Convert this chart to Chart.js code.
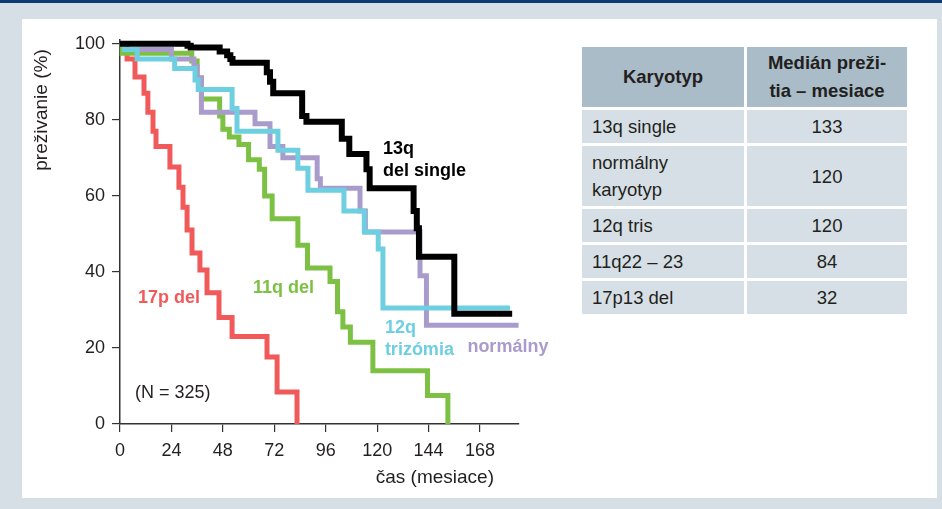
<!DOCTYPE html>
<html lang="sk">
<head>
    <meta charset="UTF-8">
    <title>Prežívanie podľa karyotypu</title>
    <script src="https://cdn.jsdelivr.net/npm/chart.js"></script>
    <style>
        * {
            box-sizing: border-box;
            margin: 0;
            padding: 0;
        }

        body {
            width: 942px;
            height: 509px;
            background: #d6dfe5;
            position: relative;
            overflow: hidden;
            font-family: "Liberation Sans", Arial, sans-serif;
        }

        .topbar {
            position: absolute;
            left: 0; top: 0;
            width: 942px; height: 3px;
            background: #0d3b76;
        }

        .panel {
            position: absolute;
            left: 22px; top: 19px;
            width: 915px; height: 479px;
            background: #fff;
        }

        #chart {
            position: absolute;
            left: 0; top: 0;
        }

        #tbl {
            position: absolute;
            left: 579px;
            top: 44px;
            width: 331px;
            table-layout: fixed;
            border-collapse: separate;
            border-spacing: 3px;
            font-size: 18.5px;
            color: #231f20;
        }

        #tbl th {
            background: #a9bcc7;
            height: 60px;
            line-height: 28px;
            font-weight: bold;
            white-space: pre-line;
        }

        #tbl td {
            background: #d6dfe5;
            height: 33px;
            line-height: 27px;
            padding: 0 10px;
            white-space: pre-line;
        }

        #tbl td.num {
            text-align: center;
        }
    </style>
</head>
<body>
    <div class="topbar"></div>
    <div class="panel"></div>
    <canvas id="chart" width="560" height="509"></canvas>
    <table id="tbl">
        <colgroup><col style="width:162px"><col style="width:160px"></colgroup>
        <thead><tr id="tblHead"></tr></thead>
        <tbody id="tblBody"></tbody>
    </table>
    <script>
        // axis ticks
        const xTicks = [0, 24, 48, 72, 96, 120, 144, 168];
        const yTicks = [0, 20, 40, 60, 80, 100];

        // survival curves: months, survival (%) after the step
        const monthsDel13q = [0, 31.5, 33, 46.5, 50, 51.5, 52.5, 68.5, 70, 71.5, 85, 87, 103.5, 107, 115, 116.5, 137, 138.5, 139.5, 156, 183];
        const survDel13q   = [100, 99.5, 99, 98, 97, 96, 95, 92.5, 90, 87, 81, 79.5, 75, 71, 67, 62, 56, 51.5, 44, 29, 29];

        const monthsTris12q = [0, 2, 8, 25.5, 35, 36.5, 52.3, 54.6, 73.7, 83, 87.7, 104.5, 114, 120.5, 122.7, 182];
        const survTris12q   = [100, 98.5, 96, 93.5, 90.5, 88, 83, 77, 72, 67.3, 61.5, 56, 50.5, 46, 30.5, 30.5];

        const monthsNormal = [0, 2, 24, 34.5, 36, 38, 63, 70, 76, 92, 93.5, 112, 114.5, 140, 143, 186];
        const survNormal   = [100, 98.5, 96, 94, 91, 82, 79, 73, 70, 64.5, 62, 56, 50.5, 39, 26, 26];

        const monthsDel11q = [0, 1, 33.5, 36, 38, 46.5, 48, 51, 55.5, 60, 65, 67.5, 71, 83, 87.5, 98, 101.5, 104, 107.5, 118, 143.5, 153];
        const survDel11q   = [100, 97.5, 95.5, 91, 85.5, 81, 77.5, 75.5, 73.5, 69.5, 67, 60, 54, 47, 41, 37.5, 29.5, 25.5, 21.5, 14, 7.5, 0];

        const monthsDel17p = [0, 3.3, 7, 11.2, 13, 15.4, 16.8, 23.3, 27.5, 29.4, 31.3, 33.6, 37.3, 40.6, 46.2, 52.3, 68.6, 73.3, 82.6];
        const survDel17p   = [100, 96, 91.3, 87, 82, 77, 73, 67.6, 62.3, 57, 51, 45, 40.5, 34.5, 28, 23, 17.6, 8.4, 0];

        // table
        const tableHeader = ['Karyotyp', 'Medián preži-\ntia – mesiace'];
        const karyotypes = ['13q single', 'normálny\nkaryotyp', '12q tris', '11q22 – 23', '17p13 del'];
        const medianMonths = [133, 120, 120, 84, 32];

        const FONT = '"Liberation Sans", Arial, sans-serif';
        const TEXT = '#231f20';

        function toPoints(xs, ys) {
            return xs.map((x, i) => ({ x: x, y: ys[i] }));
        }

        function curve(xs, ys, color, width) {
            return {
                data: toPoints(xs, ys),
                borderColor: color,
                borderWidth: width,
                stepped: 'before',
                pointRadius: 0,
                fill: false,
                borderJoinStyle: 'miter',
                borderCapStyle: 'butt',
                clip: 6
            };
        }

        // curve labels, placed in data units
        const curveLabels = [
            { lines: ['13q', 'del single'], t: 122.7, v: 72.3, color: '#000', bold: true },
            { lines: ['17p del'], t: 8.4, v: 33.1, color: '#f05a5a', bold: true },
            { lines: ['11q del'], t: 62.1, v: 35.8, color: '#7cc144', bold: true },
            { lines: ['12q', 'trizómia'], t: 123.6, v: 25.2, color: '#6dcfe0', bold: true },
            { lines: ['normálny'], t: 162.1, v: 20.2, color: '#a99ccc', bold: true },
            { lines: ['(N = 325)'], t: 7.0, v: 8.2, color: TEXT, bold: false }
        ];

        const labelPlugin = {
            id: 'curveLabels',
            afterDatasetsDraw(chart) {
                const { ctx, scales } = chart;
                ctx.save();
                ctx.textBaseline = 'middle';
                ctx.textAlign = 'left';
                curveLabels.forEach(l => {
                    ctx.font = (l.bold ? 'bold ' : '') + '18px ' + FONT;
                    ctx.fillStyle = l.color;
                    let px = scales.x.getPixelForValue(l.t);
                    let py = scales.y.getPixelForValue(l.v);
                    l.lines.forEach((s, i) => ctx.fillText(s, px, py + i * 22));
                });

                // axis titles
                ctx.fillStyle = TEXT;
                ctx.font = '19px ' + FONT;
                ctx.textAlign = 'right';
                ctx.fillText('čas (mesiace)', 494, 478);

                ctx.translate(42, 110);
                ctx.rotate(-Math.PI / 2);
                ctx.textAlign = 'center';
                ctx.fillText('preživanie (%)', 0, 0);
                ctx.restore();
            }
        };

        const axisLine = { display: true, color: '#333', width: 1.5 };
        const tickGrid = { drawOnChartArea: false, drawTicks: true, tickLength: 8, color: '#333', lineWidth: 1.2 };

        new Chart(document.getElementById('chart'), {
            type: 'line',
            data: {
                datasets: [
                    curve(monthsDel13q, survDel13q, '#000000', 6),
                    curve(monthsTris12q, survTris12q, '#6dcfe0', 5),
                    curve(monthsNormal, survNormal, '#a99ccc', 5),
                    curve(monthsDel11q, survDel11q, '#7cc144', 5),
                    curve(monthsDel17p, survDel17p, '#f05a5a', 5)
                ]
            },
            options: {
                responsive: false,
                animation: false,
                events: [],
                layout: { padding: { left: 0, top: 40, right: 41.4, bottom: 0 } },
                plugins: {
                    legend: { display: false },
                    tooltip: { enabled: false }
                },
                scales: {
                    x: {
                        type: 'linear',
                        min: 0,
                        max: 186,
                        afterBuildTicks: s => { s.ticks = xTicks.map(v => ({ value: v })); },
                        afterFit: s => { s.height = 85; },
                        grid: tickGrid,
                        border: axisLine,
                        ticks: { padding: 8, maxRotation: 0, color: TEXT, font: { family: FONT, size: 18 } }
                    },
                    y: {
                        min: 0,
                        max: 101,
                        afterBuildTicks: s => { s.ticks = yTicks.map(v => ({ value: v })); },
                        afterFit: s => { s.width = 120; },
                        grid: tickGrid,
                        border: axisLine,
                        ticks: { padding: 7, color: TEXT, font: { family: FONT, size: 18 } }
                    }
                }
            },
            plugins: [labelPlugin]
        });

        // build the table from the arrays
        document.getElementById('tblHead').innerHTML = tableHeader.map(h => `<th>${h}</th>`).join('');
        let rows = '';
        karyotypes.forEach((k, i) => {
            let h = k.includes('\n') ? ' style="height:60px"' : '';
            rows += `<tr><td${h}>${k}</td><td class="num"${h}>${medianMonths[i]}</td></tr>`;
        });
        document.getElementById('tblBody').innerHTML = rows;
    </script>
</body>
</html>
